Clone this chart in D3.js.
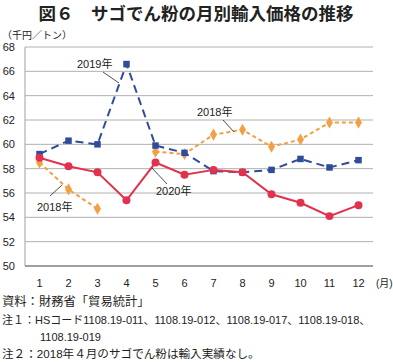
<html>
<head>
<meta charset="utf-8" />
<script src="https://cdn.jsdelivr.net/npm/d3@7/dist/d3.min.js"></script>
<style>
  body { margin:0; background:#fff; }
  text { font-family: "Liberation Sans", "Noto Sans CJK JP", sans-serif; fill:#222; }
</style>
</head>
<body>
<svg width="393" height="362"></svg>
<script>
// dati
var mesi = [1,2,3,4,5,6,7,8,9,10,11,12];
var y2018 = [58.5,56.3,54.7,null,59.4,59.2,60.8,61.2,59.8,60.4,61.8,61.8];
var y2019 = [59.2,60.3,60.0,66.6,59.9,59.3,57.8,57.7,57.9,58.8,58.1,58.7];
var y2020 = [58.9,58.2,57.7,55.4,58.5,57.5,57.9,57.7,55.9,55.2,54.1,55.0];
var yTicks = [50,52,54,56,58,60,62,64,66,68];
var note = [
  "資料：財務省「貿易統計」",
  "注１：HSコード1108.19-011、1108.19-012、1108.19-017、1108.19-018、",
  "1108.19-019",
  "注２：2018年４月のサゴでん粉は輸入実績なし。"
];

var svg = d3.select("svg");
var sx = 25, dx = 373, sopra = 47, sotto = 266;

var x = d3.scalePoint().domain(mesi).range([sx, dx]).padding(0.5);
var y = d3.scaleLinear().domain([50,68]).range([sotto, sopra]);

// titolo
svg.append("text").attr("x",196).attr("y",20).attr("text-anchor","middle")
   .style("font-size","17.5px").style("font-weight","bold").style("font-family","Noto Sans CJK JP")
   .text("図６　サゴでん粉の月別輸入価格の推移");
svg.append("text").attr("x",2).attr("y",39).style("font-size","10px").text("（千円／トン）");

// griglia
svg.selectAll(".grid").data(yTicks.slice(1)).enter().append("line")
   .attr("x1",sx).attr("x2",dx)
   .attr("y1",function(d){return y(d)}).attr("y2",function(d){return y(d)})
   .attr("stroke","#b0b0b0").attr("stroke-width",1);

svg.append("line").attr("x1",sx).attr("x2",sx).attr("y1",sopra).attr("y2",sotto)
   .attr("stroke","#a0a0a0");
svg.append("line").attr("x1",sx).attr("x2",dx).attr("y1",sotto).attr("y2",sotto)
   .attr("stroke","#808080").attr("stroke-width",1.5);

svg.selectAll(".ylab").data(yTicks).enter().append("text")
   .attr("x",15).attr("y",function(d){return y(d)+4}).attr("text-anchor","end")
   .style("font-size","11px").text(function(d){return d});

svg.selectAll(".xlab").data(mesi).enter().append("text")
   .attr("x",function(d){return x(d)}).attr("y",287).attr("text-anchor","middle")
   .style("font-size","11px").text(function(d){return d});
svg.append("text").attr("x",376).attr("y",287).style("font-size","10px").text("(月)");

function serie(vals, colore, dash, forma) {
  var pts = mesi.map(function(m,i){return {m:m, v:vals[i]}});
  var line = d3.line().defined(function(d){return d.v != null})
     .x(function(d){return x(d.m)}).y(function(d){return y(d.v)});
  svg.append("path").datum(pts).attr("d",line).attr("fill","none")
     .attr("stroke",colore).attr("stroke-width",2).attr("stroke-dasharray",dash);
  var sym = d3.symbol().type(forma).size(forma==d3.symbolCircle ? 50 : 42);
  svg.selectAll(null).data(pts.filter(function(d){return d.v != null})).enter().append("path")
     .attr("d",sym)
     .attr("transform",function(d){return "translate("+x(d.m)+","+y(d.v)+")"})
     .attr("fill",colore);
}
serie(y2018, "#f2a043", "4,3", d3.symbolDiamond);
serie(y2019, "#2f4b9b", "8,5", d3.symbolSquare);
serie(y2020, "#e2314d", null, d3.symbolCircle);

// etichette
var etichette = [
  {t:"2019年", tx:77, ty:68, x1:103, y1:72, x2:119, y2:83},
  {t:"2018年", tx:197, ty:116, x1:223, y1:120, x2:234, y2:132},
  {t:"2018年", tx:37, ty:211, x1:50, y1:196, x2:62, y2:185},
  {t:"2020年", tx:156, ty:195, x1:167, y1:184, x2:152, y2:168}
];
etichette.forEach(function(e){
  svg.append("text").attr("x",e.tx).attr("y",e.ty).style("font-size","11px").text(e.t);
  svg.append("line").attr("x1",e.x1).attr("y1",e.y1).attr("x2",e.x2).attr("y2",e.y2)
     .attr("stroke","#222").attr("stroke-width",0.8);
});

// note
var ny = [306, 324, 341, 358];
var nx = [2, 2, 40, 2];
var nf = [12.3, 11, 11, 11.6];
note.forEach(function(n,i){
  svg.append("text").attr("x",nx[i]).attr("y",ny[i]).style("font-size",nf[i]+"px").text(n);
});
</script>
</body>
</html>
